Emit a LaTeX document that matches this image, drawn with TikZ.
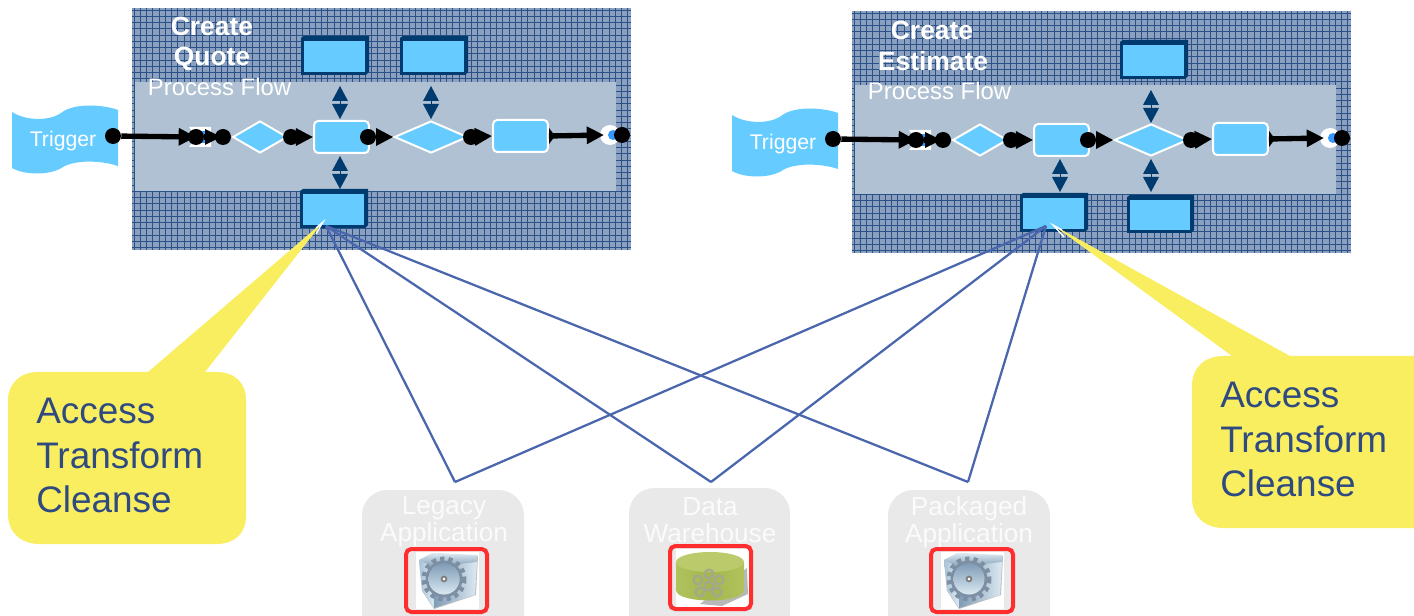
\documentclass[tikz,border=0pt]{standalone}
\usepackage{fontspec}
\setmainfont{Liberation Sans}
\usetikzlibrary{arrows.meta,shapes.geometric}
\definecolor{panelfill}{HTML}{8B9FBE}
\definecolor{gridline}{HTML}{2A5288}
\definecolor{bandfill}{HTML}{AFC1D2}
\definecolor{sky}{HTML}{66CCFF}
\definecolor{navy}{HTML}{003B70}
\definecolor{callfill}{HTML}{F9EE60}
\definecolor{calltext}{HTML}{2F4A80}
\definecolor{linkblue}{HTML}{4A66AC}
\definecolor{grayfill}{HTML}{E9E9E9}
\definecolor{redbox}{HTML}{FF2D2D}
\definecolor{canblue}{HTML}{3399FF}
\definecolor{cubeA}{HTML}{A9C3D8}
\definecolor{cubeB}{HTML}{DCE9F2}
\definecolor{cubeC}{HTML}{7F9CB6}
\definecolor{gearcol}{HTML}{7C8FA3}
\definecolor{canside}{HTML}{A4B74E}
\definecolor{canlight}{HTML}{B0C25C}
\definecolor{cantop}{HTML}{BBCB6B}
\definecolor{canring}{HTML}{A3A78C}
\tikzset{
  x=0.75pt,y=-0.75pt,
  tasknode/.style={draw=white,line width=1.5pt,fill=sky,rounded corners=3pt,minimum width=41pt,minimum height=24pt,inner sep=0pt},
  gatenode/.style={diamond,aspect=1.7,draw=white,line width=1.5pt,fill=sky,inner sep=0pt},
  flowdot/.style={circle,fill=black,minimum size=12pt,inner sep=0pt},
  flowline/.style={line width=4pt,black,-{Triangle[length=13pt,width=12.5pt]}},
  linkline/.style={linkblue,line width=1.7pt},
  titletext/.style={white,font=\bfseries\fontsize{19.8}{22}\selectfont,inner sep=0pt},
  flowtext/.style={white,font=\fontsize{17.9}{20}\selectfont,inner sep=0pt},
  triggertext/.style={white,font=\fontsize{15.9}{18}\selectfont,inner sep=0pt},
  calltextstyle/.style={calltext,font=\fontsize{27.7}{33.4}\selectfont,align=left,inner sep=0pt,anchor=north west},
  apptext/.style={white!97!gray,font=\fontsize{19.6}{20.3}\selectfont,align=center,inner sep=0pt},
  redframe/.style={draw=redbox,line width=3pt,rounded corners=4pt},
}
\newcommand{\twotri}[2]{%
  \fill[navy] (#1-8,#2+15) -- (#1,#2) -- (#1+8,#2+15) -- cycle;
  \fill[navy] (#1-8,#2+18) -- (#1+8,#2+18) -- (#1,#2+33) -- cycle;
  \draw[navy,line width=.5pt] (#1,#2+15) -- (#1,#2+18);}
\newcommand{\databox}[4]{% x0 y0 x1 y1
  \fill[navy] (#1,#2+1) -- (#1+3,#2-1) -- (#3,#2-1) -- (#3,#4-3) -- (#3-3,#4) -- (#1,#4) -- cycle;
  \fill[sky] (#1+2.5,#2+4) rectangle (#3-4,#4-3);}
\newcommand{\panel}[3]{%
\begin{scope}[shift={(#2,#3)}]
  \fill[panelfill] (132,8) rectangle (631,250);
  \foreach \gx in {134,140.25,...,631} \draw[gridline,line width=.5pt] (\gx,8) -- (\gx,250);
  \foreach \gy in {10,16.25,...,250} \draw[gridline,line width=.5pt] (132,\gy) -- (631,\gy);
  \fill[bandfill] (135,82) rectangle (616,191);
  \fill[sky] (12,112) .. controls (24,120) and (48,122) .. (61,113) .. controls (75,102) and (105,105) .. (118,110)
     -- (118,166) .. controls (100,160) and (75,160) .. (63,167) .. controls (50,176) and (24,175) .. (12,168) -- cycle;
  \node[triggertext] (#1trig) at (63,141) {Trigger};
  \fill[white] (189,127) -- (211,127) -- (211,147) -- (189,147) -- (196,137) -- cycle;
  \fill[canblue] (197,131) rectangle (208,143);
  \node[gatenode,minimum width=41pt,minimum height=24pt] (#1g1) at (260,137) {};
  \node[tasknode] (#1t1) at (341.5,137) {};
  \node[gatenode,minimum width=55pt,minimum height=24pt] (#1g2) at (431,137) {};
  \node[tasknode] (#1t2) at (520.5,136) {};
  \node[circle,fill=white,minimum size=15pt,inner sep=0pt] (#1e) at (610,135) {};
  \fill[canblue] (613,135) circle (5);
  \node[flowdot] (#1d0) at (113,136) {};
  \node[flowdot] (#1d1) at (196,137) {};
  \node[flowdot] (#1d2) at (223,137) {};
  \node[flowdot] (#1d3) at (291,137) {};
  \node[flowdot] (#1d4) at (368,137) {};
  \node[flowdot] (#1d5) at (471,137) {};
  \node[flowdot] (#1d6) at (622,135) {};
  \draw[flowline] (#1d0) -- (196,137);
  \draw[line width=4pt] (#1d1) -- (#1d2);
  \fill (205,129) -- (205,145) -- (221,137) -- cycle;
  \draw[flowline] (#1d3) -- (#1t1.west);
  \draw[flowline] (#1d4) -- (#1g2.west);
  \draw[flowline] (#1d5) -- (#1t2.west);
  \draw[flowline] (#1t2.east) -- (604,135);
  \fill (549,128) -- (549,144) -- (555,136) -- cycle;
\end{scope}}
\newcommand{\cubeicon}[2]{%
 \begin{scope}[shift={(#1,#2)}]
  \fill[white] (-31,-29) rectangle (32,28);
  \fill[black!25] (-28,-21) -- (-14,-28) -- (31,-25) -- (29,14) -- (-13,28) -- (-25,10) -- cycle;
  \shade[left color=cubeA,right color=cubeB] (-28,-21) -- (-13,-14) -- (-13,27) -- (-25,9) -- cycle;
  \shade[top color=cubeB,bottom color=cubeC] (-28,-21) -- (-14,-28) -- (30,-26) -- (30,-19) -- (-13,-14) -- cycle;
  \shade[left color=cubeC,right color=cubeB] (-13,-14) -- (30,-19) -- (28,14) -- (-13,27) -- cycle;
  \draw[gearcol,line width=4.5pt,dash pattern=on 3pt off 3pt] (-3,-2) circle (19.5);
  \draw[gearcol,line width=2.2pt] (-3,-2) circle (17);
  \shade[top color=cubeC,bottom color=cubeB] (-3,-2) circle (15.5);
  \draw[gray,line width=1.4pt,fill=white] (-3,-2) circle (2.4);
 \end{scope}}
\begin{document}
\begin{tikzpicture}
\useasboundingbox (0,0) rectangle (1414,616);
\panel{a}{0}{0}
\panel{b}{720}{3}
\node[titletext] (tq1) at (212,26) {Create};
\node[titletext] (tq2) at (212,59) {Quote};
\node[flowtext] (pf1) at (219.5,87) {Process Flow};
\node[titletext] (te1) at (932,30) {Create};
\node[titletext] (te2) at (933,61) {Estimate};
\node[flowtext] (pf2) at (939.5,91) {Process Flow};
\databox{301}{37}{369}{75}
\databox{400}{37}{468}{75}
\databox{300}{190}{368}{228}
\databox{1120}{41}{1188}{79}
\databox{1020}{194}{1088}{232}
\databox{1127}{196}{1194}{233}
\coordinate (lq) at (326,226);
\coordinate (le) at (1046,226);
\twotri{340}{86}
\twotri{431}{86}
\twotri{340}{156}
\twotri{1151}{90}
\twotri{1060}{159}
\twotri{1151}{159}
\fill[callfill] (38,372) -- (148,372) -- (323,222) -- (205,372) -- (216,372)
  .. controls (236,372) and (246,384) .. (246,400) -- (246,516) .. controls (246,534) and (234,544) .. (216,544)
  -- (40,544) .. controls (20,544) and (8,532) .. (8,514) -- (8,400) .. controls (8,384) and (20,372) .. (38,372) -- cycle;
\fill[callfill] (1224,356) -- (1232,356) -- (1053,225) -- (1290,356) -- (1414,356) -- (1414,528) -- (1224,528)
  .. controls (1204,528) and (1192,516) .. (1192,498) -- (1192,386) .. controls (1192,368) and (1204,356) .. (1224,356) -- cycle;
\draw[white,line width=1pt] (316,228) -- (323,222) -- (316,234);
\draw[white,line width=1pt] (1062,230) -- (1053,225) -- (1064,237);
\node[calltextstyle] (ca) at (36,398) {Access\\Transform\\Cleanse};
\node[calltextstyle] (cb) at (1220,382) {Access\\Transform\\Cleanse};
\begin{scope}
\clip (0,0) rectangle (1414,616);
\fill[grayfill,rounded corners=19pt] (362,490) rectangle (524,640);
\fill[grayfill,rounded corners=19pt] (629,488) rectangle (790,640);
\fill[grayfill,rounded corners=19pt] (888,490) rectangle (1050,640);
\end{scope}
\node[apptext] (app1) at (444,521.5) {Legacy\\Application};
\node[apptext] (app2) at (710,520.5) {Data\\Warehouse};
\node[apptext] (app3) at (969,522) {Packaged\\Application};
\coordinate (p1) at (455,482);
\coordinate (p2) at (711,482);
\coordinate (p3) at (968,482);
\foreach \pp in {p1,p2,p3} {
  \draw[linkline] (lq) -- (\pp);
  \draw[linkline] (le) -- (\pp);
}
\cubeicon{447}{581}
\draw[redframe] (406,549) rectangle (487,612);
\cubeicon{972}{581}
\draw[redframe] (931,549) rectangle (1013,612);
\fill[white] (676,549) rectangle (749,607);
\fill[black!28] (700,604) -- (747,568) -- (748,594) -- (722,606) -- cycle;
\shade[left color=canlight,right color=canlight,middle color=canside]
  (676,562) -- (676,590) .. controls (676,604) and (744,604) .. (744,590) -- (744,562) -- cycle;
\fill[cantop] (710,562) ellipse (34 and 10);
\foreach \cx/\cy in {698/580,709/574,719/580,709/586,700/592,717/592}
  \draw[canring,line width=1.7pt] (\cx,\cy) circle (4.4);
\draw[redframe] (670,546) rectangle (751,609);
\end{tikzpicture}
\end{document}
